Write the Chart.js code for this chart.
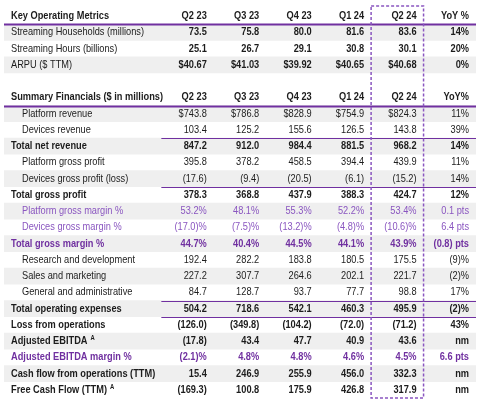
<!DOCTYPE html>
<html>
<head>
<meta charset="utf-8">
<script src="https://cdn.jsdelivr.net/npm/chart.js@4.4.1/dist/chart.umd.min.js"></script>
<style>
    html, body { margin: 0; padding: 0; background: #fff; }
    #wrap { width: 480px; height: 401px; position: relative; }
</style>
</head>
<body>
<div id="wrap"><canvas id="tbl"></canvas></div>
<script>
// Column headers
const quarters = ['Q2 23', 'Q3 23', 'Q4 23', 'Q1 24', 'Q2 24'];

// Key operating metrics
const kpiLabels = ['Streaming Households (millions)', 'Streaming Hours (billions)', 'ARPU ($ TTM)'];
const households = [73.5, 75.8, 80.0, 81.6, 83.6];
const hours = [25.1, 26.7, 29.1, 30.8, 30.1];
const arpu = [40.67, 41.03, 39.92, 40.65, 40.68];
const kpiYoY = [14, 20, 0];

// Summary financials ($ in millions)
const finLabels = [
    'Platform revenue', 'Devices revenue', 'Total net revenue',
    'Platform gross profit', 'Devices gross profit (loss)', 'Total gross profit',
    'Platform gross margin %', 'Devices gross margin %', 'Total gross margin %',
    'Research and development', 'Sales and marketing', 'General and administrative',
    'Total operating expenses', 'Loss from operations', 'Adjusted EBITDA',
    'Adjusted EBITDA margin %', 'Cash flow from operations (TTM)', 'Free Cash Flow (TTM)'
];
const platformRevenue = [743.8, 786.8, 828.9, 754.9, 824.3];
const devicesRevenue = [103.4, 125.2, 155.6, 126.5, 143.8];
const totalRevenue = [847.2, 912.0, 984.4, 881.5, 968.2];
const platformGP = [395.8, 378.2, 458.5, 394.4, 439.9];
const devicesGP = [-17.6, -9.4, -20.5, -6.1, -15.2];
const totalGP = [378.3, 368.8, 437.9, 388.3, 424.7];
const platformGM = [53.2, 48.1, 55.3, 52.2, 53.4];
const devicesGM = [-17.0, -7.5, -13.2, -4.8, -10.6];
const totalGM = [44.7, 40.4, 44.5, 44.1, 43.9];
const rnd = [192.4, 282.2, 183.8, 180.5, 175.5];
const salesMkt = [227.2, 307.7, 264.6, 202.1, 221.7];
const genAdmin = [84.7, 128.7, 93.7, 77.7, 98.8];
const totalOpex = [504.2, 718.6, 542.1, 460.3, 495.9];
const opLoss = [-126.0, -349.8, -104.2, -72.0, -71.2];
const adjEbitda = [-17.8, 43.4, 47.7, 40.9, 43.6];
const ebitdaMargin = [-2.1, 4.8, 4.8, 4.6, 4.5];
const cashFlowOps = [15.4, 246.9, 255.9, 456.0, 332.3];
const freeCashFlow = [-169.3, 100.8, 175.9, 426.8, 317.9];
const finYoY = [11, 39, 14, 11, 14, 12, 0.1, 6.4, -0.8, -9, -2, 17, -2, 43, null, 6.6, null, null];
const finYoYUnit = ['%', '%', '%', '%', '%', '%', 'pts', 'pts', 'pts', '%', '%', '%', '%', '%', '', 'pts', '', ''];

const kpiValues = [households, hours, arpu];
const finValues = [platformRevenue, devicesRevenue, totalRevenue, platformGP, devicesGP, totalGP,
    platformGM, devicesGM, totalGM, rnd, salesMkt, genAdmin, totalOpex, opLoss, adjEbitda,
    ebitdaMargin, cashFlowOps, freeCashFlow];

// styling per row
const finStyle = ['indent', 'indent', 'bold', 'indent', 'indent', 'bold', 'pindent', 'pindent', 'pbold',
    'indent', 'indent', 'indent', 'bold', 'bold', 'bold', 'pbold', 'bold', 'bold'];
const finRuleBelow = [1, 4, 11, 12];
const finSup = { 14: 'A', 17: 'A' };

// no narrow font installed, so squeeze Liberation Sans horizontally
const FONT = '"Liberation Sans", Arial, sans-serif';
const SQUEEZE = 0.84;
const DARK = '#1c1c1c';
const PURPLE = '#7030a0';
const PURPLE_LIGHT = '#8a56c0';

// row layout: header, 3 kpis, gap, header, 18 financial rows
const KPI_START = 1;
const FIN_HDR = 5;
const FIN_START = 6;
const rowKeys = ['kpiHdr', ...kpiLabels, 'gap', 'finHdr', ...finLabels];
const shadedRows = [KPI_START, KPI_START + 2].concat(finLabels.map((_, i) => i).filter(i => i % 2 === 0).map(i => i + FIN_START));

function fmtNum(v, dec) {
    const s = Math.abs(v).toFixed(dec);
    return v < 0 ? '(' + s + ')' : s;
}

function fmtYoY(v, unit) {
    if (v === null) return 'nm';
    if (unit === 'pts') return fmtNum(v, 1) + ' pts';
    return fmtNum(v, 0) + '%';
}

function fmtFin(row, v) {
    if (row === 0) return '$' + fmtNum(v, 1);
    if (finStyle[row][0] === 'p') return fmtNum(v, 1) + '%';
    return fmtNum(v, 1);
}

const tablePlugin = {
    id: 'tableText',
    afterDatasetsDraw(chart) {
        const { ctx, scales: { x, y }, chartArea } = chart;
        const colRight = c => x.getPixelForValue(4 + c) - 7;
        const labelX = x.getPixelForValue(0) + 7;
        const between = i => (y.getPixelForValue(i) + y.getPixelForValue(i + 1)) / 2;

        ctx.save();
        ctx.textBaseline = 'middle';

        const text = (str, px, py, align, bold, color, size) => {
            ctx.font = (bold ? 'bold ' : '') + (size || 11) + 'px ' + FONT;
            ctx.textAlign = align;
            ctx.fillStyle = color;
            ctx.save();
            ctx.translate(px, py);
            ctx.scale(SQUEEZE, 1);
            ctx.fillText(str, 0, 0);
            ctx.restore();
            return ctx.measureText(str).width * SQUEEZE;
        };

        // headers
        const hdrRow = (row, title, yoyTitle) => {
            const py = y.getPixelForValue(row);
            text(title, labelX, py, 'left', true, DARK);
            quarters.forEach((q, c) => text(q, colRight(c), py, 'right', true, DARK));
            text(yoyTitle, colRight(5), py, 'right', true, DARK);
        };
        hdrRow(0, 'Key Operating Metrics', 'YoY %');
        hdrRow(FIN_HDR, 'Summary Financials ($ in millions)', 'YoY%');

        // key metrics
        kpiLabels.forEach((lab, r) => {
            const py = y.getPixelForValue(KPI_START + r);
            text(lab, labelX, py, 'left', false, DARK);
            kpiValues[r].forEach((v, c) => {
                const s = r === 2 ? '$' + v.toFixed(2) : v.toFixed(1);
                text(s, colRight(c), py, 'right', true, DARK);
            });
            text(kpiYoY[r] + '%', colRight(5), py, 'right', true, DARK);
        });

        // financials
        finLabels.forEach((lab, r) => {
            const py = y.getPixelForValue(FIN_START + r);
            const st = finStyle[r];
            const bold = st.endsWith('bold');
            const purple = st[0] === 'p';
            const color = purple ? (bold ? PURPLE : PURPLE_LIGHT) : DARK;
            const lx = st.endsWith('indent') ? labelX + 11 : labelX;
            const w = text(lab, lx, py, 'left', bold, color);
            if (finSup[r]) text(finSup[r], lx + w + 3, py - 3, 'left', true, color, 7);
            finValues[r].forEach((v, c) => text(fmtFin(r, v), colRight(c), py, 'right', bold, color));
            text(fmtYoY(finYoY[r], finYoYUnit[r]), colRight(5), py, 'right', bold, color);
        });

        // rules
        ctx.strokeStyle = PURPLE;
        const rule = (row, x0, w) => {
            const py = Math.round(between(row)) + 0.5;
            ctx.lineWidth = w;
            ctx.beginPath();
            ctx.moveTo(x.getPixelForValue(x0), py);
            ctx.lineTo(x.getPixelForValue(9), py);
            ctx.stroke();
        };
        rule(0, 0, 2);
        rule(FIN_HDR, 0, 2);
        finRuleBelow.forEach(r => rule(FIN_START + r, 3, 1.2));

        // highlight box for latest quarter
        ctx.strokeStyle = PURPLE_LIGHT;
        ctx.lineWidth = 1.5;
        ctx.setLineDash([3, 2]);
        const bx0 = x.getPixelForValue(7), bx1 = x.getPixelForValue(8);
        ctx.strokeRect(bx0, chartArea.top - 2, bx1 - bx0, chartArea.bottom - chartArea.top + 2);
        ctx.restore();
    }
};

new Chart(document.getElementById('tbl'), {
    type: 'bar',
    data: {
        labels: rowKeys,
        datasets: [{
            data: rowKeys.map((_, i) => shadedRows.includes(i) ? [0, 9] : null),
            backgroundColor: '#efefef',
            borderWidth: 0,
            barPercentage: 1,
            categoryPercentage: 1
        }]
    },
    options: {
        indexAxis: 'y',
        responsive: true,
        maintainAspectRatio: false,
        animation: false,
        layout: { padding: { left: 4, right: 4, top: 8, bottom: 3 } },
        plugins: { legend: { display: false }, tooltip: { enabled: false } },
        scales: {
            x: { type: 'linear', min: 0, max: 9, display: false },
            y: { display: false }
        }
    },
    plugins: [tablePlugin]
});
</script>
</body>
</html>
